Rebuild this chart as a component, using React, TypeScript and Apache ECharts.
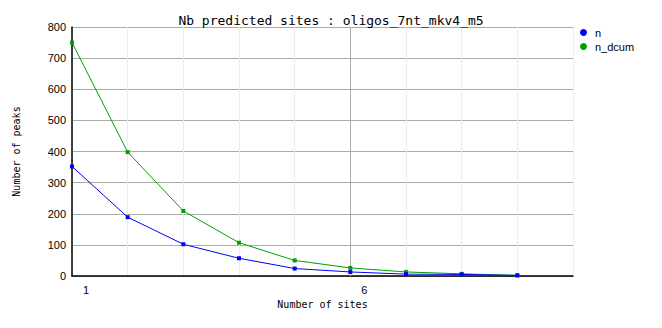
import React, { useEffect, useRef } from "react";
import * as echarts from "echarts";

const xValues = [1, 2, 3, 4, 5, 6, 7, 8, 9];
const nValues = [352, 189, 102, 57, 24, 13, 6, 5, 2];
const nDcumValues = [750, 398, 209, 107, 50, 26, 13, 7, 2];
const shownXLabels = [1, 6];
const titleText = "Nb predicted sites : oligos_7nt_mkv4_m5";

export default function App() {
  const ref = useRef<HTMLDivElement>(null);
  useEffect(() => {
    if (!ref.current) return;
    const chart = echarts.init(ref.current, null, { renderer: "svg" });
    const mono = "DejaVu Sans Mono";
    const sans = "Liberation Sans";
    chart.setOption({
      animation: false,
      backgroundColor: "#ffffff",
      title: {
        text: titleText,
        left: "center",
        top: 9,
        textStyle: { fontFamily: mono, fontSize: 13, fontWeight: "normal", color: "#000" },
      },
      legend: {
        orient: "vertical",
        left: 580,
        top: 26,
        padding: 0,
        itemWidth: 7,
        itemHeight: 7,
        itemGap: 1,
        icon: "circle",
        data: ["n", "n_dcum"],
        textStyle: { fontFamily: sans, fontSize: 11, lineHeight: 13, color: "#000", padding: [0, 0, 0, 3] },
      },
      grid: { left: 72, right: 89, top: 27, bottom: 52 },
      xAxis: {
        type: "value",
        min: 1,
        max: 10,
        interval: 1,
        name: "Number of sites",
        nameLocation: "middle",
        nameGap: 23,
        nameTextStyle: { fontFamily: mono, fontSize: 10, color: "#000" },
        axisLine: { show: true, onZero: false, lineStyle: { color: "#000", width: 1.5 } },
        axisTick: { show: false },
        axisLabel: {
          fontFamily: sans,
          fontSize: 11,
          color: "#000",
          margin: 8,
          padding: [0, 0, 0, 28],
          formatter: (v: number) => (shownXLabels.includes(v) ? String(v) : ""),
        },
        splitLine: { show: true, lineStyle: { color: "#ececec", width: 1 } },
      },
      yAxis: {
        type: "value",
        min: 0,
        max: 800,
        interval: 100,
        name: "Number of peaks",
        nameLocation: "middle",
        nameGap: 51,
        nameTextStyle: { fontFamily: mono, fontSize: 10, color: "#000" },
        axisLine: { show: true, lineStyle: { color: "#000", width: 1.5 } },
        axisTick: { show: false },
        axisLabel: { fontFamily: sans, fontSize: 11, color: "#000", margin: 6 },
        splitLine: { show: true, lineStyle: { color: "#aaaaaa", width: 1 } },
      },
      series: [
        {
          name: "n_dcum",
          type: "line",
          data: xValues.map((x, i) => [x, nDcumValues[i]]),
          symbol: "rect",
          symbolSize: 4,
          showSymbol: true,
          z: 3,
          itemStyle: { color: "#00a000" },
          lineStyle: { color: "#00a000", width: 1 },
          markLine: {
            silent: true,
            symbol: "none",
            label: { show: false },
            lineStyle: { color: "#aaaaaa", type: "solid", width: 1 },
            data: [{ xAxis: 6 }],
            z: 1,
          },
        },
        {
          name: "n",
          type: "line",
          data: xValues.map((x, i) => [x, nValues[i]]),
          symbol: "rect",
          symbolSize: 4,
          showSymbol: true,
          z: 4,
          itemStyle: { color: "#0000ff" },
          lineStyle: { color: "#0000ff", width: 1 },
        },
      ],
    });
    return () => chart.dispose();
  }, []);
  return <div ref={ref} style={{ width: 662, height: 328, position: "absolute", left: 0, top: 0 }} />;
}
